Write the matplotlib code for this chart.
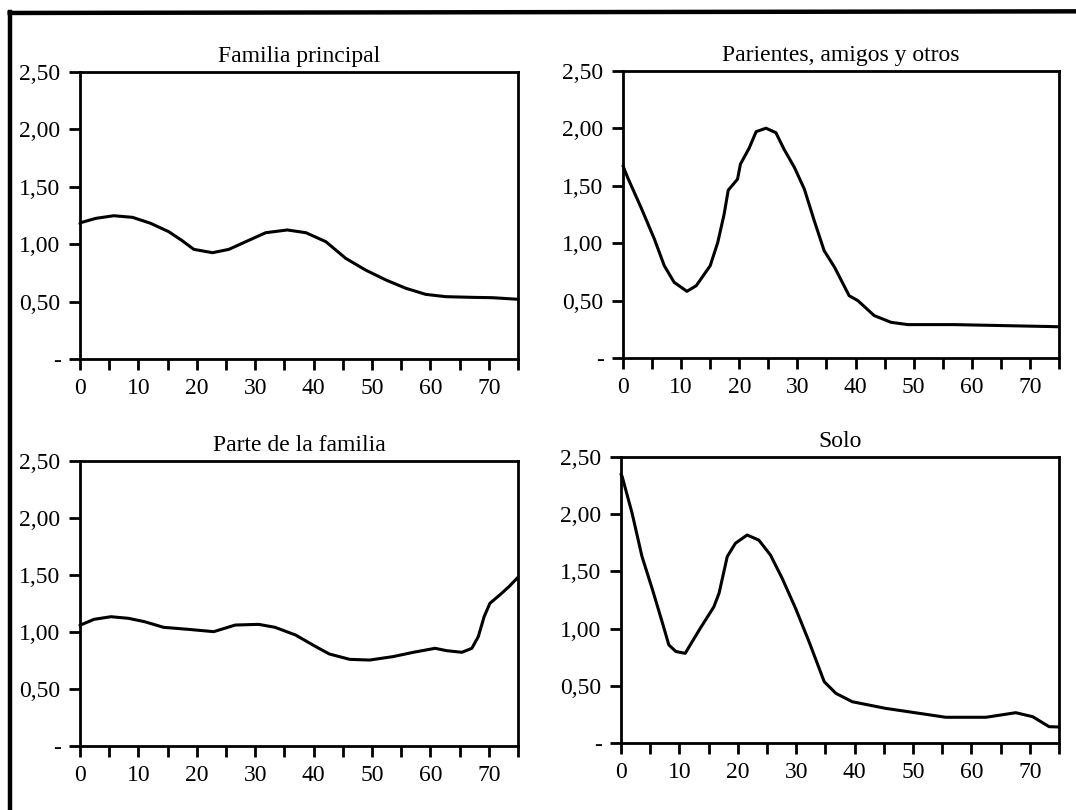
import matplotlib
matplotlib.use("Agg")
import matplotlib.pyplot as plt
from matplotlib.lines import Line2D

plt.rcParams["font.family"] = ["Liberation Serif", "DejaVu Serif"]

# Age axis ticks and labels
x_ticks = list(range(0, 80, 5))
x_labels = ["0", "", "10", "", "20", "", "30", "", "40", "", "50", "", "60", "", "70", ""]
y_ticks = [0, 0.5, 1.0, 1.5, 2.0, 2.5]
y_labels = ["-", "0,50", "1,00", "1,50", "2,00", "2,50"]

titles = ["Familia principal", "Parientes, amigos y otros", "Parte de la familia", "Solo"]

# Familia principal
fp_x = [0, 0.3, 2.7, 5.8, 9.0, 12.1, 15.2, 17.5, 19.5, 22.7, 25.5, 28.4, 31.8, 35.5, 38.7,
        42.1, 45.5, 48.9, 52.4, 55.8, 59.2, 62.6, 67.2, 70.6, 73.5, 75]
fp_y = [1.18, 1.19, 1.225, 1.248, 1.234, 1.182, 1.109, 1.031, 0.955, 0.926, 0.955, 1.022,
        1.100, 1.124, 1.100, 1.022, 0.877, 0.775, 0.688, 0.616, 0.563, 0.543, 0.537,
        0.534, 0.525, 0.52]

# Parientes, amigos y otros
pa_x = [0, 0.8, 3.1, 5.4, 7.1, 8.8, 11.0, 12.6, 15.0, 16.3, 17.4, 18.1, 19.7, 20.2, 21.7,
        22.9, 24.6, 26.3, 27.7, 29.5, 31.2, 32.9, 34.6, 36.4, 38.9, 40.4, 43.2, 46.1, 49.0,
        57.0, 73.6, 75]
pa_y = [1.674, 1.572, 1.311, 1.036, 0.804, 0.659, 0.581, 0.630, 0.804, 1.007, 1.254, 1.462,
        1.558, 1.689, 1.828, 1.972, 2.002, 1.963, 1.819, 1.659, 1.471, 1.196, 0.935, 0.79,
        0.543, 0.50, 0.37, 0.311, 0.291, 0.291, 0.274, 0.272]

# Parte de la familia
pf_x = [0, 0.1, 2.4, 5.3, 8.3, 11.1, 14.3, 18.6, 22.9, 23.8, 26.6, 30.6, 33.4, 36.9, 40.4,
        42.7, 46.2, 49.6, 53.6, 57.1, 60.8, 62.8, 65.4, 67.1, 68.2, 69.2, 70.2, 72.0, 73.5, 75]
pf_y = [1.06, 1.061, 1.111, 1.134, 1.120, 1.090, 1.041, 1.023, 1.003, 1.017, 1.061, 1.067,
        1.041, 0.974, 0.871, 0.807, 0.760, 0.754, 0.784, 0.822, 0.857, 0.836, 0.822, 0.857,
        0.959, 1.134, 1.252, 1.33, 1.40, 1.48]

# Solo
so_x = [0, 0.2, 1.9, 3.6, 5.4, 7.1, 8.2, 9.4, 11.0, 13.4, 15.9, 16.8, 18.2, 19.6, 21.6,
        23.6, 25.6, 27.6, 29.9, 32.2, 34.8, 36.8, 39.6, 45.3, 51.0, 55.6, 62.5, 67.6, 70.5,
        73.3, 75]
so_y = [2.35, 2.33, 2.01, 1.63, 1.34, 1.05, 0.857, 0.80, 0.784, 0.988, 1.19, 1.31, 1.63,
        1.746, 1.818, 1.774, 1.643, 1.44, 1.177, 0.886, 0.536, 0.434, 0.361, 0.303, 0.26,
        0.225, 0.225, 0.265, 0.23, 0.143, 0.14]

series = [(fp_x, fp_y), (pa_x, pa_y), (pf_x, pf_y), (so_x, so_y)]

# panel rectangles in figure fractions
boxes = [
    [0.0743, 0.5568, 0.4071, 0.3543],
    [0.5790, 0.5580, 0.4052, 0.3543],
    [0.0743, 0.0790, 0.4071, 0.3519],
    [0.5771, 0.0827, 0.4071, 0.3531],
]

fig = plt.figure(figsize=(10.76, 8.10), dpi=100)

for box, title, (xs, ys) in zip(boxes, titles, series):
    ax = fig.add_axes(box)
    ax.plot(xs, ys, color="black", lw=2.2, solid_capstyle="round",
            solid_joinstyle="round", clip_on=False)
    ax.set_xlim(0, 75)
    ax.set_ylim(0, 2.5)
    ax.set_xticks(x_ticks)
    ax.set_xticklabels(x_labels)
    ax.set_yticks(y_ticks)
    ax.set_yticklabels(y_labels)
    ax.tick_params(direction="out", length=8, width=2, labelsize=17, pad=6, colors="black")
    for sp in ax.spines.values():
        sp.set_linewidth(2)
    ax.set_title(title, fontsize=17, pad=7)

# outer frame (top and left edges)
fig.add_artist(Line2D([0.009, 1.0], [0.984, 0.986], color="black", lw=3.2,
                      transform=fig.transFigure))
fig.add_artist(Line2D([0.0095, 0.0095], [0.0, 0.985], color="black", lw=3.2,
                      transform=fig.transFigure))

fig.savefig("out.png", dpi=100, facecolor="white")
